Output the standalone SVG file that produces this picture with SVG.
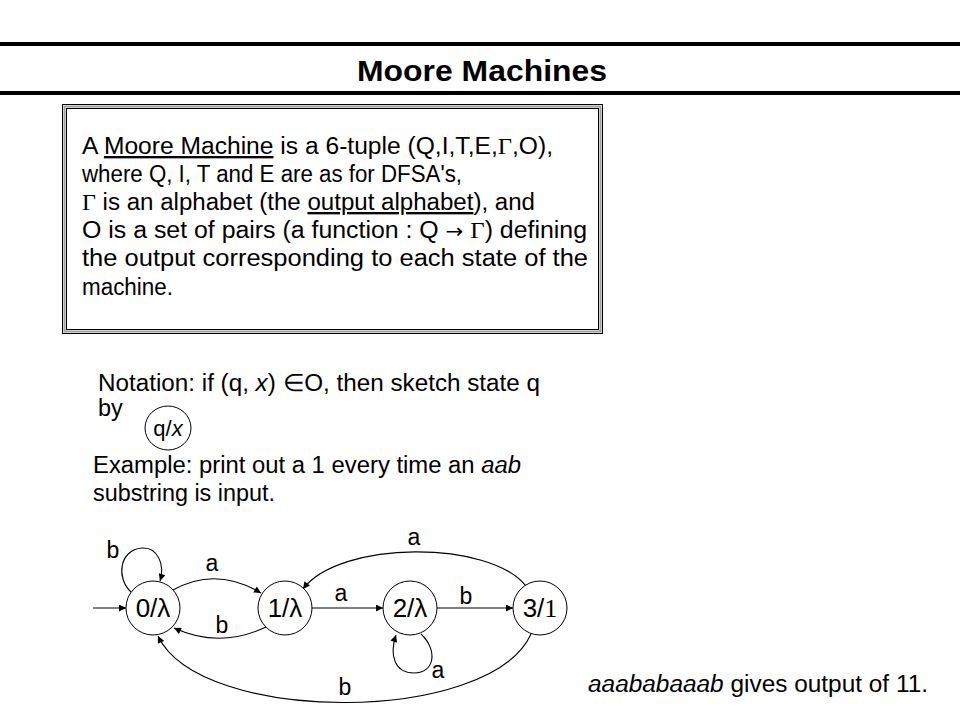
<svg xmlns="http://www.w3.org/2000/svg" width="960" height="720" viewBox="0 0 960 720">
<style>
  text { font-family: "Liberation Sans", Arial, sans-serif; fill: #000; }
  .body { font-size: 23.5px; }
  .title { font-size: 30px; font-weight: bold; }
  .sym { font-family: "Liberation Serif", "Times New Roman", serif; }
  .arrow { font-family: "DejaVu Sans", sans-serif; font-size: 20px; }
  .it { font-style: italic; }
  .u { text-decoration: underline; }
  .lbl { font-size: 23px; text-anchor: middle; }
  .st { font-size: 26px; text-anchor: middle; }
  .node circle, .node ellipse { fill: #fff; stroke: #000; stroke-width: 1; }
  .edge { fill: none; stroke: #000; stroke-width: 1.1; marker-end: url(#arr); }
</style>
<defs>
  <marker id="arr" viewBox="0 0 10 10" refX="10" refY="5" markerWidth="10" markerHeight="7" markerUnits="userSpaceOnUse" orient="auto">
    <path d="M0,0 L10,5 L0,10 z" fill="#000"/>
  </marker>
</defs>
<rect width="960" height="720" fill="#fff"/>

<!-- header -->
<rect x="0" y="42" width="960" height="4" fill="#000"/>
<rect x="0" y="91" width="960" height="4" fill="#000"/>
<text class="title" x="357" y="81" textLength="250" lengthAdjust="spacingAndGlyphs">Moore Machines</text>

<!-- definition box -->
<g id="definition">
  <rect x="62.5" y="104.5" width="540" height="229" fill="none" stroke="#000" stroke-width="1"/>
  <rect x="64.5" y="106.5" width="536" height="225" fill="none" stroke="#a0a0a0" stroke-width="2"/>
  <rect x="66.5" y="108.5" width="532" height="221" fill="none" stroke="#000" stroke-width="1"/>
  <text class="body" x="82" y="154" textLength="471" lengthAdjust="spacingAndGlyphs">A <tspan class="u">Moore Machine</tspan> is a 6-tuple (Q,I,T,E,<tspan class="sym">Γ</tspan>,O),</text>
  <text class="body" x="82" y="182" textLength="380" lengthAdjust="spacingAndGlyphs">where Q, I, T and E are as for DFSA's,</text>
  <text class="body" x="82" y="210" textLength="453" lengthAdjust="spacingAndGlyphs"><tspan class="sym">Γ</tspan> is an alphabet (the <tspan class="u">output alphabet</tspan>), and</text>
  <text class="body" x="82" y="238" textLength="505" lengthAdjust="spacingAndGlyphs">O is a set of pairs (a function : Q <tspan class="arrow">→</tspan> <tspan class="sym">Γ</tspan>) defining</text>
  <text class="body" x="82" y="266" textLength="506" lengthAdjust="spacingAndGlyphs">the output corresponding to each state of the</text>
  <text class="body" x="82" y="295" textLength="91" lengthAdjust="spacingAndGlyphs">machine.</text>
</g>

<!-- notation -->
<g id="notation">
  <text class="body" x="98" y="391" textLength="442" lengthAdjust="spacingAndGlyphs">Notation: if (q, <tspan class="it">x</tspan>) <tspan class="sym">∈</tspan>O, then sketch state q</text>
  <text class="body" x="98" y="416">by</text>
</g>
<g id="q_x" class="node">
  <ellipse cx="168" cy="428" rx="23" ry="22"/>
  <text x="168" y="436" style="font-size:22px" text-anchor="middle">q/<tspan class="it">x</tspan></text>
</g>

<g id="example">
  <text class="body" x="93" y="473" textLength="428" lengthAdjust="spacingAndGlyphs">Example: print out a 1 every time an <tspan class="it">aab</tspan></text>
  <text class="body" x="93" y="501" textLength="182" lengthAdjust="spacingAndGlyphs">substring is input.</text>
</g>

<!-- connectors -->
<g id="connectors">
  <path class="edge" d="M93,608 L126,608"/>
  <path class="edge" d="M173,590 Q216,566 261,593"/>
  <path class="edge" d="M266,627 Q220,649 174,628"/>
  <path class="edge" d="M312,608 L383,608"/>
  <path class="edge" d="M437,608 L513,608"/>
  <path class="edge" d="M526,586 C490,540 340,540 303,589"/>
  <path class="edge" d="M531,634 C490,725 200,725 158,636"/>
  <path class="edge" d="M131,592 C116,578 119,550 142,548 C158,547 165,565 160,581"/>
  <path class="edge" d="M421,634 C438,650 435,673 414,673 C395,673 389,656 396,635"/>
  <text class="lbl" x="212" y="571">a</text>
  <text class="lbl" x="222" y="633">b</text>
  <text class="lbl" x="113" y="558">b</text>
  <text class="lbl" x="341" y="601">a</text>
  <text class="lbl" x="466" y="604">b</text>
  <text class="lbl" x="414" y="545">a</text>
  <text class="lbl" x="438" y="678">a</text>
  <text class="lbl" x="345" y="695">b</text>
</g>

<!-- states -->
<g id="s0" class="node">
  <circle cx="153" cy="608" r="27"/>
  <text class="st" x="153" y="617">0/λ</text>
</g>
<g id="s1" class="node">
  <circle cx="285" cy="608" r="27"/>
  <text class="st" x="285" y="617">1/λ</text>
</g>
<g id="s2" class="node">
  <circle cx="410" cy="608" r="27"/>
  <text class="st" x="410" y="617">2/λ</text>
</g>
<g id="s3" class="node">
  <circle cx="540" cy="608" r="27"/>
  <text class="st" x="540" y="617">3/<tspan class="sym">1</tspan></text>
</g>

<text class="body" x="588" y="692" textLength="340" lengthAdjust="spacingAndGlyphs"><tspan class="it">aaababaaab</tspan> gives output of 11.</text>
</svg>
